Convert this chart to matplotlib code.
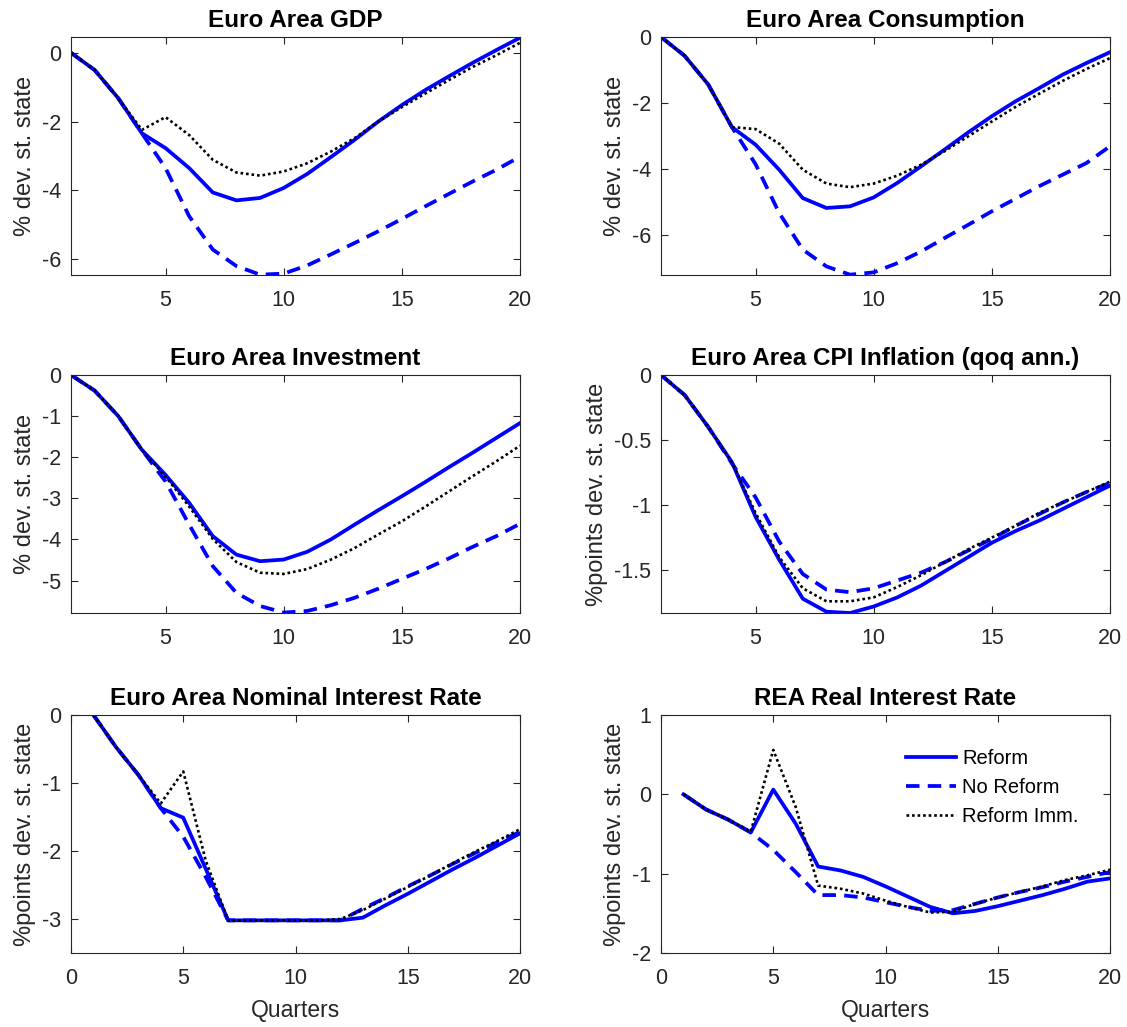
import numpy as np
import matplotlib
matplotlib.use("Agg")
import matplotlib.pyplot as plt

plt.rcParams['font.family'] = ['Liberation Sans', 'DejaVu Sans']
plt.rcParams['axes.unicode_minus'] = False

quarters = np.arange(1, 21)

# Euro Area GDP
gdp_reform = [0, -0.5, -1.32, -2.34, -2.77, -3.35, -4.06, -4.29, -4.22, -3.93,
              -3.52, -3.03, -2.53, -2.0, -1.52, -1.08, -0.68, -0.29, 0.08, 0.44]
gdp_noreform = [0, -0.5, -1.32, -2.34, -3.35, -4.75, -5.72, -6.2, -6.45, -6.42,
                -6.18, -5.86, -5.53, -5.19, -4.83, -4.46, -4.1, -3.74, -3.4, -3.02]
gdp_imm = [0, -0.5, -1.32, -2.24, -1.87, -2.39, -3.11, -3.48, -3.57, -3.45,
           -3.21, -2.87, -2.48, -2.0, -1.58, -1.18, -0.79, -0.41, -0.07, 0.29]

# Euro Area Consumption
cons_reform = [0, -0.57, -1.44, -2.73, -3.26, -4.02, -4.88, -5.18, -5.13, -4.86,
               -4.42, -3.92, -3.41, -2.89, -2.4, -1.95, -1.55, -1.14, -0.79, -0.46]
cons_noreform = [0, -0.57, -1.44, -2.73, -3.85, -5.33, -6.44, -6.95, -7.2, -7.13,
                 -6.85, -6.5, -6.09, -5.69, -5.28, -4.9, -4.52, -4.17, -3.82, -3.31]
cons_imm = [0, -0.57, -1.44, -2.73, -2.79, -3.23, -4.02, -4.44, -4.55, -4.44,
            -4.2, -3.87, -3.46, -3.01, -2.56, -2.12, -1.72, -1.33, -0.97, -0.64]

# Euro Area Investment
inv_reform = [0, -0.38, -1.0, -1.82, -2.43, -3.11, -3.92, -4.37, -4.53, -4.49,
              -4.3, -4.0, -3.64, -3.29, -2.95, -2.6, -2.24, -1.89, -1.53, -1.17]
inv_noreform = [0, -0.38, -1.0, -1.82, -2.59, -3.64, -4.65, -5.3, -5.62, -5.78,
                -5.74, -5.6, -5.42, -5.2, -4.96, -4.72, -4.46, -4.18, -3.92, -3.62]
inv_imm = [0, -0.38, -1.0, -1.82, -2.47, -3.2, -3.99, -4.55, -4.81, -4.84,
           -4.72, -4.49, -4.21, -3.88, -3.56, -3.2, -2.83, -2.46, -2.1, -1.72]

# Euro Area CPI Inflation
cpi_reform = [0, -0.154, -0.4, -0.67, -1.09, -1.42, -1.72, -1.82, -1.83, -1.78,
              -1.71, -1.62, -1.51, -1.4, -1.29, -1.2, -1.12, -1.03, -0.94, -0.85]
cpi_noreform = [0, -0.154, -0.4, -0.68, -0.94, -1.28, -1.53, -1.65, -1.67, -1.64,
                -1.58, -1.52, -1.44, -1.35, -1.26, -1.16, -1.07, -0.98, -0.9, -0.83]
cpi_imm = [0, -0.154, -0.4, -0.67, -1.06, -1.4, -1.64, -1.74, -1.74, -1.71,
           -1.63, -1.54, -1.44, -1.34, -1.25, -1.16, -1.06, -0.98, -0.9, -0.82]

# Euro Area Nominal Interest Rate
nom_reform = [0, -0.47, -0.88, -1.37, -1.51, -2.26, -3.02, -3.02, -3.02, -3.02,
              -3.02, -3.02, -2.98, -2.8, -2.63, -2.45, -2.27, -2.1, -1.92, -1.74]
nom_noreform = [0, -0.47, -0.88, -1.37, -1.79, -2.38, -3.02, -3.02, -3.02, -3.02,
                -3.02, -3.02, -2.85, -2.69, -2.52, -2.36, -2.19, -2.03, -1.87, -1.72]
nom_imm = [0, -0.47, -0.88, -1.3, -0.83, -2.14, -3.02, -3.02, -3.02, -3.02,
           -3.02, -3.0, -2.87, -2.7, -2.53, -2.36, -2.18, -2.01, -1.85, -1.68]

# REA Real Interest Rate
real_reform = [0, -0.19, -0.32, -0.48, 0.06, -0.37, -0.91, -0.96, -1.04, -1.16,
               -1.29, -1.42, -1.5, -1.47, -1.41, -1.34, -1.27, -1.19, -1.1, -1.06]
real_noreform = [0, -0.19, -0.32, -0.48, -0.7, -0.98, -1.27, -1.27, -1.3, -1.36,
                 -1.42, -1.47, -1.46, -1.38, -1.3, -1.23, -1.17, -1.1, -1.04, -0.98]
real_imm = [0, -0.19, -0.32, -0.47, 0.56, -0.16, -1.15, -1.19, -1.25, -1.34,
            -1.42, -1.49, -1.48, -1.38, -1.3, -1.23, -1.16, -1.08, -1.02, -0.95]

titles = ['Euro Area GDP', 'Euro Area Consumption', 'Euro Area Investment',
          'Euro Area CPI Inflation (qoq ann.)', 'Euro Area Nominal Interest Rate',
          'REA Real Interest Rate']
ylabels = ['% dev. st. state', '% dev. st. state', '% dev. st. state',
           '%points dev. st. state', '%points dev. st. state', '%points dev. st. state']
series = [(gdp_reform, gdp_noreform, gdp_imm),
          (cons_reform, cons_noreform, cons_imm),
          (inv_reform, inv_noreform, inv_imm),
          (cpi_reform, cpi_noreform, cpi_imm),
          (nom_reform, nom_noreform, nom_imm),
          (real_reform, real_noreform, real_imm)]
ylims = [(-6.46, 0.46), (-7.21, 0), (-5.79, 0), (-1.83, 0), (-3.5, 0), (-2, 1)]
yticks = [[-6, -4, -2, 0], [-6, -4, -2, 0], [-5, -4, -3, -2, -1, 0],
          [-1.5, -1, -0.5, 0], [-3, -2, -1, 0], [-2, -1, 0, 1]]
legend_labels = ['Reform', 'No Reform', 'Reform Imm.']

W, H = 1127, 1027
fig = plt.figure(figsize=(W / 100, H / 100), dpi=100)

col_left = [71, 661]
row_top = [37, 375, 715]
ax_w, ax_h = 449, 238

frame_col = (0.15, 0.15, 0.15)
blue = (0, 0, 1)

for i in range(6):
    r, c = divmod(i, 2)
    left = col_left[c] / W
    bottom = 1 - (row_top[r] + ax_h) / H
    ax = fig.add_axes([left, bottom, ax_w / W, ax_h / H])
    ref, noref, imm = series[i]
    ax.plot(quarters, ref, color=blue, lw=2.7, label=legend_labels[0])
    ax.plot(quarters, noref, color=blue, lw=2.7, dashes=(3.6, 2.2),
            label=legend_labels[1])
    ax.plot(quarters, imm, color='black', lw=1.9, dashes=(1, 1.1),
            label=legend_labels[2])
    ax.set_ylim(*ylims[i])
    ax.set_yticks(yticks[i])
    ax.set_yticklabels([('%g' % v) for v in yticks[i]])
    if r < 2:
        ax.set_xlim(1, 20)
        ax.set_xticks([5, 10, 15, 20])
    else:
        ax.set_xlim(0, 20)
        ax.set_xticks([0, 5, 10, 15, 20])
        ax.set_xlabel('Quarters', fontsize=16.5, color=frame_col, labelpad=7)
    ax.set_title(titles[i], fontsize=17.5, fontweight='bold', pad=7)
    ax.set_ylabel(ylabels[i], fontsize=17, color=frame_col, labelpad=4)
    ax.tick_params(direction='in', top=True, right=True, length=5, width=0.8,
                   labelsize=15.5, colors=frame_col)
    ax.tick_params(axis='x', pad=11)
    ax.tick_params(axis='y', pad=7)
    for sp in ax.spines.values():
        sp.set_color(frame_col)
        sp.set_linewidth(0.8)
    if i == 5:
        ax.legend(loc='upper right', bbox_to_anchor=(0.97, 0.935), frameon=False,
                  fontsize=14.5, handlelength=2.5, handletextpad=0.3,
                  labelspacing=0.5)

fig.savefig('out.png', dpi=100)
